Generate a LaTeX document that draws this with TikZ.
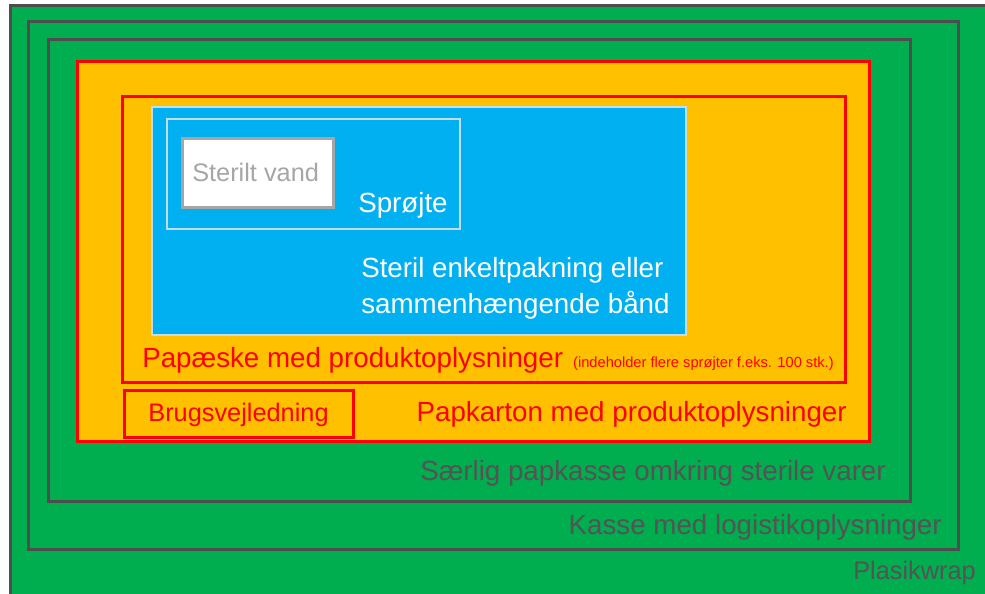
\documentclass[tikz,border=0pt]{standalone}
\usepackage{fontspec}
\setmainfont{Liberation Sans}
\usetikzlibrary{fit,positioning}

\definecolor{wrapgreen}{HTML}{00AD4F}
\definecolor{boxgray}{HTML}{4D4D4D}
\definecolor{textgray}{HTML}{545454}
\definecolor{cartonyellow}{HTML}{FFC000}
\definecolor{packblue}{HTML}{00B0F0}
\definecolor{lightedge}{HTML}{C0DDF2}
\definecolor{watergray}{HTML}{A6A6A6}

\begin{document}
\begin{tikzpicture}[
    x=0.75pt, y=-0.75pt,
    box/.style={rectangle, inner sep=0pt, line width=2.25pt},
    graybox/.style={box, draw=boxgray},
    redbox/.style={box, draw=red},
    lightbox/.style={box, draw=lightedge, line width=1.5pt},
    lbl/.style={inner sep=0pt, font=\fontsize{20.8}{27}\selectfont},
    smalllbl/.style={inner sep=0pt, font=\fontsize{19}{24}\selectfont},
    tinylbl/.style={inner sep=0pt, font=\fontsize{11}{14}\selectfont}
]
    \useasboundingbox (0,0) rectangle (985,593);
    \clip (0,0) rectangle (985,593);

    % Boxes, outermost first
    \node [graybox, fill=wrapgreen, fit={(10,5.5) (1010,610)}] (wrap) {};
    \node [graybox, fit={(28.5,21) (958,549)}] (kasse) {};
    \node [graybox, fit={(48,39) (910,501)}] (papkasse) {};
    \node [redbox, fill=cartonyellow, fit={(77.5,61.5) (869,441)}] (papkarton) {};
    \node [redbox, fit={(122.5,96.5) (845,382)}] (papaeske) {};
    \node [redbox, fit={(124.5,390) (353,437)}] (brugs) {};
    \node [lightbox, fill=packblue, fit={(152,107) (686,335)}] (enkelt) {};
    \node [lightbox, fit={(167,119) (460,229)}] (sproejte) {};
    \node [box, draw=watergray, fill=white, fit={(182,138) (333,207)}] (vand) {};

    % Labels
    \node [smalllbl, text=watergray, anchor=base west] (vandlbl) at (192,181) {Sterilt vand};
    \node [lbl, text=white, anchor=base west] (sproejtelbl) at (358,212) {Sprøjte};
    \node [lbl, text=white, anchor=base west] (enkeltlbla) at (361,277) {Steril enkeltpakning eller};
    \node [lbl, text=white, anchor=base west] (enkeltlblb) at (361,313) {sammenhængende bånd};
    \node [lbl, text=red, anchor=base west] (papaeskelbl) at (142,367) {Papæske med produktoplysninger};
    \node [tinylbl, text=red, anchor=base east] (antallbl) at (834,367) {(indeholder flere sprøjter f.eks. 100 stk.)};
    \node [smalllbl, text=red, anchor=base] (brugslbl) at (238.5,421) {Brugsvejledning};
    \node [lbl, text=red, anchor=base east] (papkartonlbl) at (847,421) {Papkarton med produktoplysninger};
    \node [lbl, text=textgray, anchor=base east] (papkasselbl) at (886,480) {Særlig papkasse omkring sterile varer};
    \node [lbl, text=textgray, anchor=base east] (kasselbl) at (942,534) {Kasse med logistikoplysninger};
    \node [smalllbl, text=textgray, anchor=base east] (wraplbl) at (976,579) {Plasikwrap};
\end{tikzpicture}
\end{document}
